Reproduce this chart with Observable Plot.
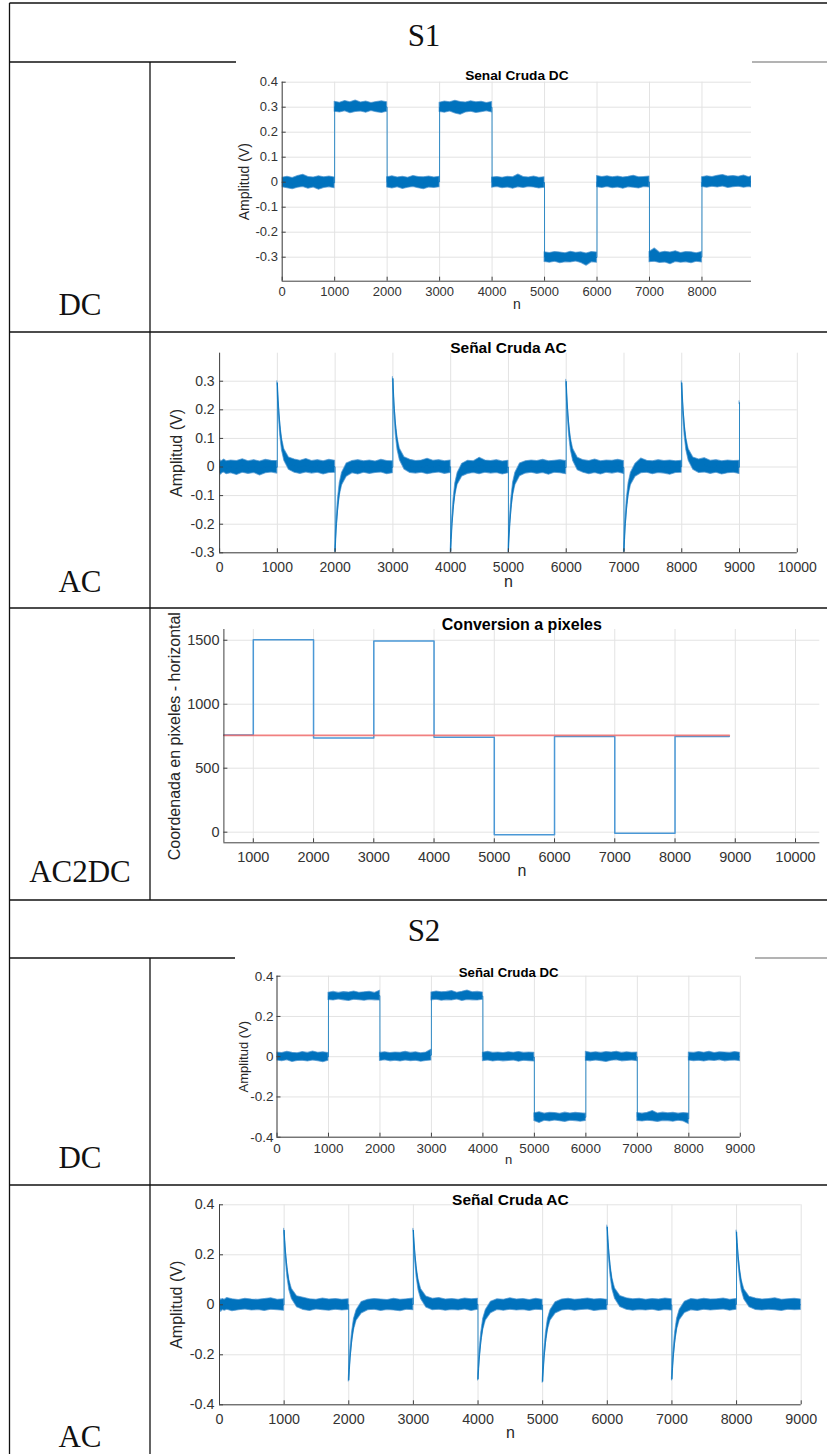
<!DOCTYPE html>
<html>
<head>
<meta charset="utf-8">
<script src="https://cdn.jsdelivr.net/npm/d3@7"></script>
<script src="https://cdn.jsdelivr.net/npm/@observablehq/plot@0.6"></script>
<style>
  html, body { margin: 0; padding: 0; background: #fff; }
  #page { position: relative; width: 827px; height: 1454px; overflow: hidden; background: #fff; }
</style>
</head>
<body>
<div id="page"></div>
<script>
// ---------------------------------------------------------------------------
// Signal data: each trace is stored segment by segment (one segment per
// 1000-sample level). For every segment the upper and lower edge of the noisy
// trace is listed at fixed sample offsets inside the segment.
// ---------------------------------------------------------------------------

// Sample offsets inside a segment
const dcOffsets = [0, 100, 200, 300, 400, 500, 600, 700, 800, 900, 999];
const acOffsets = [0, 10, 25, 50, 80, 120, 200, 300, 400, 500, 600, 700, 800, 900, 999];

// --- S1, raw DC signal -----------------------------------------------------
const s1DcStarts = [0, 1000, 2000, 3000, 4000, 5000, 6000, 7000, 8000];
const s1DcEnd = 8944;
const s1DcHi = [
  [.018, .022, .017, .025, .03, .021, .019, .024, .02, .023, .019],
  [.322, .318, .325, .32, .327, .319, .323, .317, .321, .324, .32],
  [.02, .024, .019, .022, .018, .025, .021, .02, .023, .019, .022],
  [.318, .323, .32, .326, .321, .319, .324, .32, .322, .317, .321],
  [.019, .021, .018, .022, .02, .031, .021, .019, .023, .018, .02],
  [-.28, -.283, -.279, -.281, -.284, -.278, -.282, -.28, -.285, -.279, -.281],
  [.025, .021, .024, .02, .023, .019, .022, .026, .02, .021, .023],
  [-.279, -.265, -.282, -.278, -.281, -.276, -.283, -.279, -.28, -.284, -.279],
  [.02, .024, .021, .026, .029, .023, .025, .022, .027, .02, .024]
];
const s1DcLo = [
  [-.02, -.024, -.028, -.022, -.019, -.026, -.021, -.03, -.023, -.02, -.024],
  [.282, .279, .284, .276, .281, .283, .278, .285, .28, .277, .282],
  [-.021, -.025, -.02, -.027, -.022, -.019, -.024, -.028, -.021, -.023, -.02],
  [.281, .278, .283, .275, .27, .279, .282, .277, .28, .284, .279],
  [-.022, -.019, -.024, -.021, -.026, -.02, -.023, -.019, -.021, -.025, -.022],
  [-.319, -.322, -.318, -.324, -.32, -.321, -.317, -.323, -.334, -.32, -.322],
  [-.02, -.023, -.019, -.024, -.021, -.026, -.02, -.022, -.025, -.019, -.021],
  [-.32, -.318, -.323, -.321, -.328, -.319, -.322, -.32, -.324, -.318, -.321],
  [-.019, -.022, -.018, -.021, -.017, -.023, -.02, -.018, -.022, -.019, -.021]
];

// --- S1, raw AC signal -----------------------------------------------------
const s1AcStarts = [0, 1000, 2000, 3000, 4000, 5000, 6000, 7000, 8000, 9000];
const s1AcEnd = 9000;
const s1AcHi = [
  [.02, .024, .019, .022, .026, .02, .023, .021, .027, .02, .024, .019, .025, .022, .021],
  [.30, .265, .215, .15, .1, .062, .033, .026, .022, .028, .021, .024, .02, .025, .022],
  [-.29, -.24, -.18, -.11, -.056, -.02, .012, .021, .024, .02, .023, .019, .025, .021, .02],
  [.315, .275, .222, .155, .103, .064, .034, .025, .021, .023, .029, .022, .024, .02, .023],
  [-.29, -.242, -.182, -.112, -.057, -.021, .011, .022, .02, .032, .023, .021, .024, .019, .022],
  [-.29, -.24, -.181, -.11, -.055, -.02, .012, .02, .023, .021, .025, .02, .022, .024, .021],
  [.305, .268, .218, .152, .1, .063, .032, .024, .021, .026, .02, .023, .022, .025, .021],
  [-.29, -.241, -.18, -.11, -.056, -.02, .011, .03, .022, .02, .024, .021, .023, .02, .022],
  [.30, .264, .214, .15, .1, .062, .033, .026, .031, .022, .024, .02, .023, .021, .022],
  [.23]
];
const s1AcLo = [
  [-.02, -.023, -.027, -.021, -.019, -.025, -.022, -.028, -.02, -.024, -.021, -.03, -.022, -.019, -.023],
  [.29, .24, .18, .11, .058, .022, -.01, -.02, -.024, -.019, -.023, -.02, -.026, -.021, -.02],
  [-.30, -.266, -.214, -.152, -.1, -.064, -.034, -.022, -.026, -.02, -.024, -.021, -.019, -.025, -.022],
  [.305, .25, .186, .113, .06, .024, -.009, -.021, -.023, -.02, -.025, -.022, -.019, -.024, -.021],
  [-.30, -.265, -.215, -.15, -.099, -.062, -.033, -.024, -.021, -.025, -.02, -.023, -.021, -.026, -.022],
  [-.30, -.264, -.213, -.151, -.1, -.063, -.032, -.023, -.02, -.024, -.021, -.027, -.02, -.022, -.025],
  [.295, .243, .182, .112, .059, .021, -.011, -.02, -.025, -.021, -.026, -.02, -.023, -.019, -.024],
  [-.30, -.265, -.214, -.151, -.1, -.063, -.034, -.022, -.02, -.025, -.021, -.023, -.027, -.021, -.02],
  [.29, .24, .179, .11, .058, .022, -.01, -.021, -.019, -.024, -.02, -.026, -.022, -.02, -.024],
  [.22]
];

// --- S1, AC to DC conversion in pixels --------------------------------------
const pixStarts = [512, 1000, 2000, 3000, 4000, 5000, 6000, 7000, 8000];
const pixLevels = [760, 1503, 737, 1495, 742, -21, 747, -8, 747];
const pixEnd = 8900;
const refN = [512, 8900];
const refLevel = 757;

// --- S2, raw DC signal -----------------------------------------------------
const s2DcStarts = [0, 1000, 2000, 3000, 4000, 5000, 6000, 7000, 8000];
const s2DcEnd = 9000;
const s2DcHi = [
  [.021, .018, .024, .02, .017, .023, .019, .026, .02, .022, .018],
  [.318, .322, .317, .321, .319, .324, .318, .32, .323, .317, .328],
  [.019, .022, .018, .021, .02, .024, .019, .022, .017, .021, .034],
  [.319, .324, .32, .322, .326, .318, .323, .329, .32, .322, .319],
  [.02, .024, .019, .021, .018, .022, .02, .023, .019, .021, .02],
  [-.281, -.276, -.283, -.279, -.28, -.284, -.278, -.282, -.279, -.281, -.283],
  [.024, .02, .022, .019, .023, .021, .025, .019, .022, .02, .021],
  [-.28, -.283, -.279, -.27, -.282, -.278, -.281, -.279, -.283, -.28, -.282],
  [.021, .019, .023, .02, .024, .018, .022, .021, .019, .023, .02]
];
const s2DcLo = [
  [-.019, -.023, -.018, -.026, -.021, -.02, -.024, -.019, -.022, -.028, -.02],
  [.282, .279, .284, .28, .277, .283, .281, .278, .282, .28, .279],
  [-.021, -.018, -.023, -.02, -.024, -.019, -.022, -.02, -.025, -.021, -.019],
  [.28, .283, .278, .281, .279, .284, .277, .282, .28, .279, .283],
  [-.022, -.019, -.024, -.02, -.023, -.021, -.019, -.025, -.02, -.022, -.024],
  [-.319, -.33, -.318, -.322, -.317, -.321, -.324, -.318, -.32, -.323, -.319],
  [-.02, -.023, -.019, -.022, -.026, -.02, -.018, -.023, -.021, -.019, -.022],
  [-.319, -.322, -.318, -.321, -.324, -.319, -.32, -.323, -.318, -.322, -.335],
  [-.019, -.022, -.02, -.024, -.019, -.021, -.018, -.023, -.02, -.019, -.022]
];

// --- S2, raw AC signal -----------------------------------------------------
const s2AcStarts = [0, 1000, 2000, 3000, 4000, 5000, 6000, 7000, 8000];
const s2AcEnd = 9000;
const s2AcHi = [
  [.021, .025, .019, .023, .02, .027, .022, .019, .024, .021, .02, .023, .026, .02, .022],
  [.304, .27, .218, .152, .1, .063, .034, .028, .022, .02, .025, .021, .023, .02, .022],
  [-.297, -.245, -.183, -.112, -.057, -.022, .011, .02, .023, .021, .019, .024, .02, .022, .025],
  [.304, .268, .217, .151, .1, .062, .033, .024, .027, .021, .023, .02, .025, .022, .024],
  [-.293, -.243, -.181, -.111, -.056, -.021, .012, .022, .02, .026, .021, .023, .019, .024, .02],
  [-.302, -.248, -.186, -.114, -.058, -.022, .01, .021, .024, .02, .022, .025, .021, .023, .02],
  [.317, .279, .226, .158, .104, .065, .035, .026, .022, .024, .02, .023, .021, .025, .022],
  [-.293, -.242, -.18, -.11, -.055, -.02, .012, .023, .02, .024, .021, .022, .025, .02, .023],
  [.297, .263, .212, .148, .098, .061, .032, .025, .021, .023, .026, .02, .022, .024, .021]
];
const s2AcLo = [
  [-.022, -.019, -.028, -.021, -.024, -.02, -.026, -.022, -.019, -.023, -.021, -.025, -.02, -.022, -.024],
  [.294, .244, .182, .112, .059, .023, -.01, -.021, -.025, -.019, -.022, -.024, -.02, -.023, -.021],
  [-.307, -.27, -.219, -.153, -.101, -.064, -.035, -.022, -.02, -.025, -.021, -.023, -.026, -.02, -.022],
  [.294, .243, .181, .111, .058, .022, -.011, -.022, -.02, -.024, -.021, -.023, -.019, -.025, -.02],
  [-.303, -.267, -.216, -.151, -.1, -.063, -.034, -.021, -.024, -.02, -.023, -.021, -.025, -.02, -.022],
  [-.312, -.274, -.222, -.155, -.102, -.064, -.035, -.023, -.02, -.024, -.021, -.019, -.025, -.022, -.021],
  [.307, .253, .189, .116, .061, .024, -.009, -.02, -.024, -.021, -.023, -.02, -.025, -.021, -.023],
  [-.303, -.266, -.215, -.15, -.099, -.062, -.033, -.022, -.025, -.02, -.023, -.021, -.019, -.024, -.02],
  [.287, .238, .177, .109, .057, .021, -.01, -.021, -.023, -.02, -.022, -.025, -.02, -.022, -.021]
];

// Axis ticks
const ticks0to8000 = [0, 1000, 2000, 3000, 4000, 5000, 6000, 7000, 8000];
const ticks0to9000 = [0, 1000, 2000, 3000, 4000, 5000, 6000, 7000, 8000, 9000];
const ticks0to10000 = [0, 1000, 2000, 3000, 4000, 5000, 6000, 7000, 8000, 9000, 10000];
const ticks1000to10000 = [1000, 2000, 3000, 4000, 5000, 6000, 7000, 8000, 9000, 10000];
const ampTicksTenths = [-0.3, -0.2, -0.1, 0, 0.1, 0.2, 0.3, 0.4];
const ampTicksAc = [-0.3, -0.2, -0.1, 0, 0.1, 0.2, 0.3];
const ampTicksFifths = [-0.4, -0.2, 0, 0.2, 0.4];
const pixTicks = [0, 500, 1000, 1500];

// ---------------------------------------------------------------------------
// Helpers
// ---------------------------------------------------------------------------
const BLUE = "#0072BD";
const INK = "#404040";
const GRID = "#e3e3e3";
const SANS = "'Liberation Sans', Arial, Helvetica, sans-serif";
const SERIF = "'Liberation Serif', 'Times New Roman', serif";

// Turn per-segment edge lists into rows {seg, n, lo, hi}
function traceRows(starts, end, offsets, his, los) {
  const rows = [];
  starts.forEach((s, k) => {
    const segEnd = k + 1 < starts.length ? starts[k + 1] - 1 : end;
    his[k].forEach((h, i) => {
      rows.push({seg: k, n: Math.min(s + offsets[i], segEnd), hi: h, lo: los[k][i]});
    });
  });
  return rows;
}

// Noisy trace: filled band between the edges plus a thin line through the
// band centre, which draws the steep edges between segments.
function traceMarks(rows) {
  return [
    Plot.areaY(rows, {x: "n", y1: "lo", y2: "hi", z: "seg", fill: BLUE, stroke: "#4d95d0",
      strokeWidth: 1.1, strokeOpacity: 0.7, clip: true}),
    Plot.lineY(rows, {x: "n", y: d => (d.lo + d.hi) / 2, stroke: BLUE, strokeWidth: 0.8, clip: true})
  ];
}

function chart(c) {
  const [mt, mr, mb, ml] = c.margin;
  const fw = c.width - ml - mr;
  const fh = c.height - mt - mb;
  const svg = Plot.plot({
    width: c.width,
    height: c.height,
    marginTop: mt, marginRight: mr, marginBottom: mb, marginLeft: ml,
    x: {domain: c.xDomain},
    y: {domain: c.yDomain},
    style: {
      position: "absolute", left: c.left + "px", top: c.top + "px",
      background: "#fff", fontFamily: SANS, fontSize: c.tickFont + "px",
      color: "#333", overflow: "visible"
    },
    marks: [
      Plot.gridX(c.xTicks, {stroke: GRID, strokeOpacity: 1}),
      Plot.gridY(c.yTicks, {stroke: GRID, strokeOpacity: 1}),
      ...c.marks,
      Plot.ruleX([c.xDomain[0]], {stroke: INK}),
      Plot.ruleY([c.yDomain[0]], {stroke: INK}),
      Plot.tickX(c.xTicks, {x: d => d, insetTop: fh - 4, stroke: INK}),
      Plot.tickY(c.yTicks, {y: d => d, insetRight: fw - 4, stroke: INK}),
      Plot.axisX({ticks: c.xTicks, tickSize: 0, tickPadding: c.padX, label: null,
        tickFormat: d => String(d), fontSize: c.tickFont}),
      Plot.axisY({ticks: c.yTicks, tickSize: 0, tickPadding: c.padY, label: null,
        tickFormat: d => String(d), fontSize: c.tickFont}),
      Plot.text([c.title], {text: d => d, frameAnchor: "top", dy: c.titleDy, fontWeight: "bold",
        textAnchor: "middle", fontSize: c.titleFont, fill: "#000"}),
      Plot.text([c.yLabel], {text: d => d, frameAnchor: "left", dx: c.yLabelDx, rotate: -90,
        textAnchor: "middle", fontSize: c.labelFont, fill: "#262626"}),
      Plot.text([c.xLabel], {text: d => d, frameAnchor: "bottom", dy: c.xLabelDy,
        textAnchor: "middle", fontSize: c.labelFont, fill: "#262626"})
    ]
  });
  document.getElementById("page").appendChild(svg);
}

// ---------------------------------------------------------------------------
// Table frame and row headings
// ---------------------------------------------------------------------------
const page = d3.select("#page");
const table = page.append("svg")
  .attr("width", 827).attr("height", 1454)
  .style("position", "absolute").style("left", "0px").style("top", "0px");

const hLines = [
  {y: 3, x1: 9.5, x2: 827, c: "#111"},
  {y: 62, x1: 9.5, x2: 752, c: "#111"},
  {y: 62, x1: 752, x2: 827, c: "#9a9a9a"},
  {y: 332, x1: 9.5, x2: 827, c: "#111"},
  {y: 608, x1: 9.5, x2: 827, c: "#111"},
  {y: 900, x1: 9.5, x2: 827, c: "#111"},
  {y: 958, x1: 9.5, x2: 755, c: "#111"},
  {y: 958, x1: 755, x2: 827, c: "#9a9a9a"},
  {y: 1185, x1: 9.5, x2: 827, c: "#111"}
];
const vLines = [
  {x: 9.5, y1: 3, y2: 1454},
  {x: 150, y1: 62, y2: 900},
  {x: 150, y1: 958, y2: 1454}
];
table.selectAll("line.h").data(hLines).join("line")
  .attr("x1", d => d.x1).attr("x2", d => d.x2).attr("y1", d => d.y).attr("y2", d => d.y)
  .attr("stroke", d => d.c).attr("stroke-width", 1.3);
table.selectAll("line.v").data(vLines).join("line")
  .attr("x1", d => d.x).attr("x2", d => d.x).attr("y1", d => d.y1).attr("y2", d => d.y2)
  .attr("stroke", "#111").attr("stroke-width", 1.3);

const headings = [
  {t: "S1", x: 424, y: 46},
  {t: "DC", x: 80, y: 315},
  {t: "AC", x: 80, y: 591.5},
  {t: "AC2DC", x: 80, y: 881.7},
  {t: "S2", x: 424, y: 940.7},
  {t: "DC", x: 80, y: 1168},
  {t: "AC", x: 80, y: 1446.7}
];
table.selectAll("text").data(headings).join("text")
  .attr("x", d => d.x).attr("y", d => d.y)
  .attr("text-anchor", "middle")
  .attr("font-family", SERIF).attr("font-size", 31).attr("fill", "#111")
  .text(d => d.t);

// ---------------------------------------------------------------------------
// Charts
// ---------------------------------------------------------------------------
chart({
  left: 236, top: 61, width: 516, height: 270, margin: [20.7, 1, 50.3, 45.7],
  xDomain: [0, 8944], yDomain: [-0.396, 0.4], xTicks: ticks0to8000, yTicks: ampTicksTenths,
  tickFont: 13, padX: 6, padY: 4.3,
  title: "Senal Cruda DC", titleFont: 13.7, titleDy: -11.7,
  yLabel: "Amplitud (V)", xLabel: "n", labelFont: 14, yLabelDx: -38, xLabelDy: 27.6,
  marks: traceMarks(traceRows(s1DcStarts, s1DcEnd, dcOffsets, s1DcHi, s1DcLo))
});

chart({
  left: 151, top: 333, width: 676, height: 274, margin: [19.7, 30.2, 54.7, 68.1],
  xDomain: [0, 10000], yDomain: [-0.3, 0.398], xTicks: ticks0to10000, yTicks: ampTicksAc,
  tickFont: 14, padX: 9.4, padY: 5,
  title: "Señal Cruda AC", titleFont: 15.5, titleDy: -11,
  yLabel: "Amplitud (V)", xLabel: "n", labelFont: 16, yLabelDx: -42.3, xLabelDy: 34.4,
  marks: traceMarks(traceRows(s1AcStarts, s1AcEnd, acOffsets, s1AcHi, s1AcLo))
});

const pixRows = pixStarts.map((n, i) => ({n, v: pixLevels[i]}))
  .concat([{n: pixEnd, v: pixLevels[pixLevels.length - 1]}]);
const refRows = refN.map(n => ({n, v: refLevel}));
chart({
  left: 151, top: 609, width: 676, height: 290, margin: [20, 7.7, 56.7, 72.4],
  xDomain: [512, 10403], yDomain: [-83, 1584], xTicks: ticks1000to10000, yTicks: pixTicks,
  tickFont: 14.5, padX: 8.7, padY: 4.4,
  title: "Conversion a pixeles", titleFont: 16, titleDy: -10.7,
  yLabel: "Coordenada en pixeles - horizontal", xLabel: "n", labelFont: 16,
  yLabelDx: -48.8, xLabelDy: 32.7,
  marks: [
    Plot.line(pixRows, {x: "n", y: "v", curve: "step-after", stroke: "#4a98d6", strokeWidth: 1.5}),
    Plot.line(refRows, {x: "n", y: "v", stroke: "#ee6a6a", strokeWidth: 1.8, strokeOpacity: 0.85})
  ]
});

chart({
  left: 235, top: 957, width: 520, height: 227, margin: [18.7, 15.2, 47.3, 41.5],
  xDomain: [0, 9000], yDomain: [-0.4, 0.4], xTicks: ticks0to9000, yTicks: ampTicksFifths,
  tickFont: 13.5, padX: 6.6, padY: 3.5,
  title: "Señal Cruda DC", titleFont: 13.2, titleDy: -9,
  yLabel: "Amplitud (V)", xLabel: "n", labelFont: 13, yLabelDx: -33.5, xLabelDy: 26.3,
  marks: traceMarks(traceRows(s2DcStarts, s2DcEnd, dcOffsets, s2DcHi, s2DcLo))
});

chart({
  left: 151, top: 1186, width: 676, height: 268, margin: [18.3, 26.3, 49.7, 68],
  xDomain: [0, 9000], yDomain: [-0.4, 0.4], xTicks: ticks0to9000, yTicks: ampTicksFifths,
  tickFont: 14.3, padX: 9, padY: 5,
  title: "Señal Cruda AC", titleFont: 15.5, titleDy: -11.3,
  yLabel: "Amplitud (V)", xLabel: "n", labelFont: 16, yLabelDx: -42.2, xLabelDy: 33.4,
  marks: traceMarks(traceRows(s2AcStarts, s2AcEnd, acOffsets, s2AcHi, s2AcLo))
});
</script>
</body>
</html>
